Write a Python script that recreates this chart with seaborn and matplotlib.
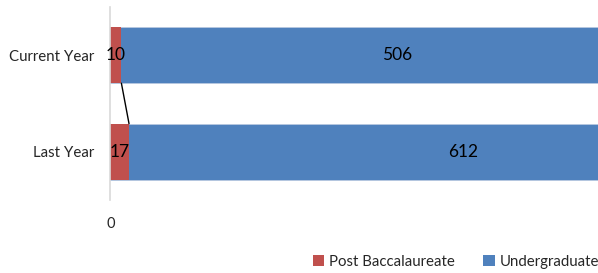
import matplotlib
matplotlib.use("Agg")
import matplotlib.pyplot as plt
import seaborn as sns
import pandas as pd
from matplotlib.patches import Patch

categories = ["Current Year", "Last Year"]
post_bacc = [10, 17]
undergrad = [506, 612]
series_names = ["Post Baccalaureate", "Undergraduate"]
colors = ["#C0504D", "#4F81BD"]

df = pd.DataFrame({"cat": categories, "post": post_bacc, "under": undergrad})
df["total"] = df["post"] + df["under"]

sns.set_theme(style="white")
plt.rcParams["font.family"] = ["Lato", "DejaVu Sans"]

fig = plt.figure(figsize=(5.98, 2.73), dpi=100)
ax = fig.add_axes([110.5 / 598, 1 - 200 / 273, 1 - 110.5 / 598, 193 / 273])

bw = 0.58
sns.barplot(data=df, y="cat", x="total", color=colors[1], orient="h",
            width=bw, saturation=1, ax=ax, order=categories,
            edgecolor="#b7c8e0", linewidth=0.6)
sns.barplot(data=df, y="cat", x="post", color=colors[0], orient="h",
            width=bw, saturation=1, ax=ax, order=categories, linewidth=0)

# series line connecting red segment ends
for i in range(len(categories) - 1):
    ax.plot([post_bacc[i], post_bacc[i + 1]], [i + bw / 2, i + 1 - bw / 2],
            color="black", lw=1.0, zorder=5)

# data labels
for i, (p, u) in enumerate(zip(post_bacc, undergrad)):
    ax.text(p / 2, i, str(p), ha="center", va="center", fontsize=12.5, color="black", zorder=6)
    ax.text(p + u / 2, i, str(u), ha="center", va="center", fontsize=12.5, color="black", zorder=6)

ax.set_xlim(0, 447)
ax.set_ylim(1.5, -0.5)
ax.set_xticks([0])
ax.set_xticklabels(["0"], fontsize=10.5)
ax.set_xlabel("")
ax.set_ylabel("")
ax.tick_params(axis="y", labelsize=10.8, length=0, pad=12)
ax.tick_params(axis="x", length=0, pad=12)
for s in ["top", "right", "bottom"]:
    ax.spines[s].set_visible(False)
ax.spines["left"].set_color("#d9d9d9")
ax.spines["left"].set_linewidth(1.2)
ax.grid(False)

handles = [Patch(facecolor=c, edgecolor="none") for c in colors]
fig.legend(handles, series_names, loc="lower right", bbox_to_anchor=(1.025, -0.035),
           ncol=2, frameon=False, fontsize=10.8, handlelength=0.75, handleheight=0.75,
           handletextpad=0.35, columnspacing=1.9)

fig.savefig("out.png", dpi=100)
